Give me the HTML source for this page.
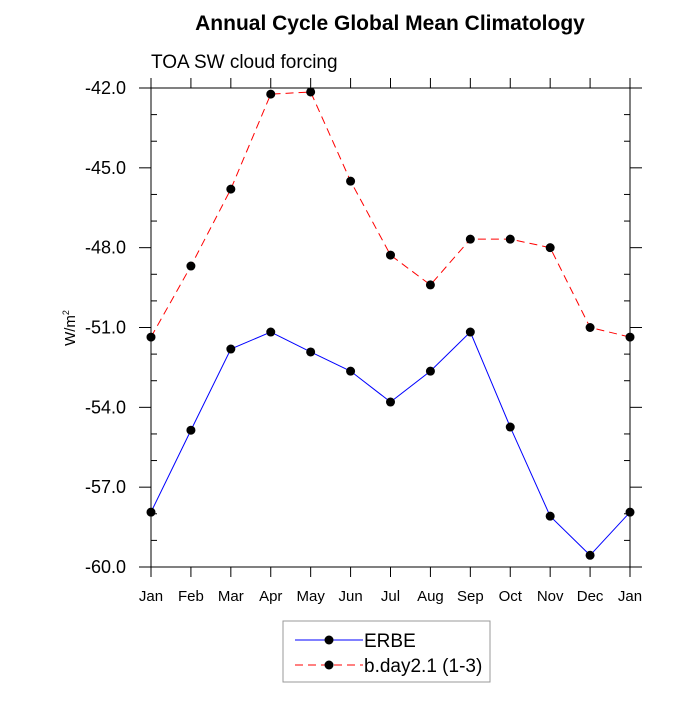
<!DOCTYPE html>
<html><head><meta charset="utf-8"><style>
body{margin:0;background:#fff;}
svg text{font-family:"Liberation Sans",sans-serif;}
</style></head><body>
<svg width="700" height="700">
<text x="390" y="30" text-anchor="middle" font-size="21" font-weight="bold">Annual Cycle Global Mean Climatology</text>
<text x="151" y="68" font-size="19">TOA SW cloud forcing</text>
<text transform="translate(75,328) rotate(-90)" text-anchor="middle" font-size="15">W/m<tspan dy="-6" font-size="9">2</tspan></text>
<g id="axes"></g>
<g id="series"></g>
<g>
<rect x="283" y="621" width="207" height="61" fill="none" stroke="#999" stroke-width="1"/>
<line x1="295" y1="640" x2="363" y2="640" stroke="#0000ff" stroke-width="1"/>
<circle cx="329" cy="640" r="4.5" fill="#000"/>
<text x="364" y="647" font-size="19">ERBE</text>
<line x1="295" y1="665" x2="363" y2="665" stroke="#ff0000" stroke-width="1" stroke-dasharray="8,5"/>
<circle cx="329" cy="665" r="4.5" fill="#000"/>
<text x="364" y="672" font-size="19">b.day2.1 (1-3)</text>
</g>
</svg>
<script>
const months=["Jan","Feb","Mar","Apr","May","Jun","Jul","Aug","Sep","Oct","Nov","Dec","Jan"];
const erbe=[-57.94,-54.86,-51.81,-51.17,-51.92,-52.64,-53.8,-52.64,-51.17,-54.74,-58.09,-59.56,-57.94];
const model=[-51.36,-48.69,-45.8,-42.23,-42.15,-45.5,-48.28,-49.4,-47.68,-47.68,-48.0,-51.0,-51.36];
const yTicks=[-42,-45,-48,-51,-54,-57,-60];
const yMin=-60,yMax=-42;
const L=151,R=630,T=88,B=567;
const NS="http://www.w3.org/2000/svg";
const xs=i=>L+(R-L)*i/(months.length-1);
const ys=v=>T+(yMax-v)/(yMax-yMin)*(B-T);
function mk(tag,attrs,parent){const e=document.createElementNS(NS,tag);for(const k in attrs)e.setAttribute(k,attrs[k]);parent.appendChild(e);return e;}
const ax=document.getElementById('axes');
const fr=mk('rect',{x:L,y:T,width:R-L,height:B-T,fill:'none',stroke:'#000','stroke-width':1},ax);


for(const t of yTicks){const y=ys(t);
 mk('line',{x1:L-12,y1:y,x2:L,y2:y,stroke:'#000'},ax);
 mk('line',{x1:R,y1:y,x2:R+12,y2:y,stroke:'#000'},ax);
 const tx=mk('text',{x:L-25,y:y+6,'text-anchor':'end','font-size':18},ax);tx.textContent=t.toFixed(1);
 
 
}
for(let v=yMin;v<=yMax;v+=1){if(yTicks.includes(v))continue;const y=ys(v);
 mk('line',{x1:L,y1:y,x2:L+6,y2:y,stroke:'#000'},ax);
 mk('line',{x1:R-6,y1:y,x2:R,y2:y,stroke:'#000'},ax);}
months.forEach((m,i)=>{const x=xs(i);
 mk('line',{x1:x,y1:B,x2:x,y2:B+10,stroke:'#000'},ax);
 mk('line',{x1:x,y1:T-10,x2:x,y2:T,stroke:'#000'},ax);
 const tx=mk('text',{x:x,y:B+34,'text-anchor':'middle','font-size':15},ax);tx.textContent=m;
 
 
});
const sg=document.getElementById('series');
function series(vals,color,dash,name){
 const pl=mk('polyline',{points:vals.map((v,i)=>xs(i)+','+ys(v)).join(' '),fill:'none',stroke:color,'stroke-width':1,'stroke-dasharray':dash},sg);
 
 
 vals.forEach((v,i)=>{const c=mk('circle',{cx:xs(i),cy:ys(v),r:4.5,fill:'#000'},sg);
  
  });
}
series(model,'#ff0000','8,5','model');
series(erbe,'#0000ff','none','erbe');
</script>
</body></html>
